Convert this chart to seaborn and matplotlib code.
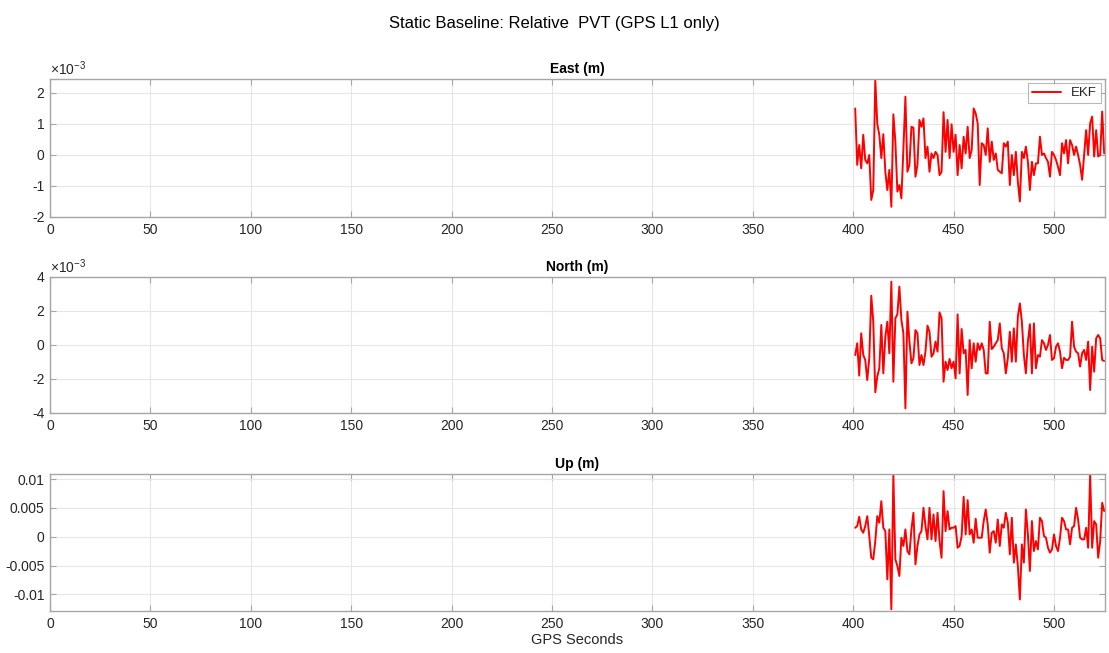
import numpy as np
import pandas as pd
import matplotlib
matplotlib.use("Agg")
import matplotlib.pyplot as plt
import seaborn as sns

# ---- data (GPS seconds 401..525, 1 Hz) ----
t = list(range(401, 526))

east_e3 = [1.5, -0.32, 0.32, -0.43, 0.65, -0.16, -0.27, 0.0, -1.45, -1.13,
           2.42, 1.0, 0.65, -0.1, 0.67, -0.54, -1.13, -0.48, -1.67, 1.31,
           0.43, -1.18, -0.97, -1.4, 0.2, 1.88, -0.54, -0.32, 0.91, 0.88,
           -0.7, -0.32, 1.13, 0.91, 1.18, -0.1, 0.27, -0.54, 0.05, -0.1,
           0.1, 0.0, -0.65, -0.54, 1.38, 0.1, 1.13, -0.1, 0.99, 0.1,
           0.65, -0.65, 0.32, -0.43, 0.59, 0.05, 0.91, -0.1, 0.16, 1.5,
           1.34, 1.02, -0.97, 0.38, 0.32, 0.0, 0.86, -0.22, 0.43, -0.16,
           0.05, -0.48, -0.54, -0.59, 0.38, 0.27, 0.43, -0.97, 0.0, -0.65,
           0.1, -0.86, -1.5, 0.1, -0.1, 0.27, -0.22, -1.13, -0.22, -0.65,
           -0.27, -0.27, 0.59, 0.0, 0.05, -0.1, -0.22, -0.7, 0.1, 0.0,
           -0.16, -0.38, -0.65, 0.38, 0.05, 0.48, -0.27, 0.48, 0.32, 0.0,
           0.27, 0.0, -0.32, -0.8, 0.0, 0.8, 0.0, 1.02, 1.24, -0.05,
           0.8, -0.05, 0.0, 1.4, 0.05]

north_e3 = [-0.59, 0.1, -1.8, 0.69, -0.59, -0.88, -2.06, -0.78, 2.9, 1.37,
            -2.78, -1.86, -1.37, 1.18, -1.67, 0.49, 1.37, -0.49, 3.73, -2.16,
            1.57, 1.8, 3.43, 1.47, 0.69, -3.73, 1.96, 0.2, -1.08, -0.78,
            0.88, 0.69, -1.18, -0.59, -1.18, -0.39, 1.14, 0.78, -0.69, -0.49,
            0.2, -0.39, 1.92, 1.57, -2.16, -0.98, -1.47, -0.82, -1.37, -0.98,
            -1.96, 1.8, -1.67, 0.94, -0.49, -0.29, -2.94, 0.29, -1.37, 0.1,
            -0.98, 0.1, -0.29, 0.1, -0.29, -1.67, -1.67, 1.37, -0.24, -0.1,
            0.1, 0.29, 1.27, -0.2, -0.49, -1.67, -0.78, 0.78, -0.98, 0.98,
            -0.98, 1.67, 2.45, 1.37, -0.59, -1.67, 0.2, 1.22, -1.67, 1.27,
            -1.37, -0.59, -0.69, 0.29, 0.1, -0.29, 0.0, 0.59, -0.88, -0.78,
            -0.1, 0.1, -0.39, -1.37, -0.75, -0.88, -0.88, -0.69, 1.37, -0.1,
            -0.39, -0.49, -1.27, -0.49, -0.29, -0.88, 0.2, -2.65, -0.1, -1.57,
            0.39, 0.59, 0.39, -0.88, -0.94]

up_e3 = [1.56, 1.85, 3.47, 1.27, 0.69, 1.85, 3.58, 0.12, -3.64, -3.93,
         -0.75, 3.58, 2.43, 6.18, 1.56, 0.98, -7.4, 1.27, -12.6, 10.8,
         -3.93, -5.09, -6.82, -0.17, -1.6, 1.27, -2.5, -3.06, 1.27, 4.16,
         -4.8, -1.6, 0.4, 0.98, 5.03, 1.85, -0.46, 5.03, -0.46, 3.87,
         -0.75, 4.16, -0.75, -3.64, 7.92, 0.98, 4.45, 1.27, 1.56, 1.56,
         1.85, -1.91, -1.6, 0.12, 6.94, 0.4, 6.36, 0.4, 1.27, -1.04,
         3.12, -0.17, -0.17, -0.17, 2.72, 4.74, 2.14, -2.77, 0.69, 0.98,
         -1.04, 3.0, -1.6, 2.14, 1.56, 4.16, 2.43, -3.06, 3.3, -4.5,
         -1.33, -5.09, -10.9, -1.33, -4.5, 4.74, 0.4, -5.95, 2.72, -2.49,
         -0.75, -2.2, 3.3, 2.72, 0.12, -0.17, -1.91, -2.77, -2.2, 0.4,
         -1.6, -2.49, -0.17, 3.3, 2.72, 1.27, 1.27, -1.33, 1.56, 1.85,
         5.03, 3.0, -0.17, -0.46, -0.46, 1.56, -1.91, 10.8, -1.91, 2.72,
         2.14, -3.64, -0.75, 5.9, 4.45]

titles = ["East (m)", "North (m)", "Up (m)"]
x_ticks = list(range(0, 501, 50))
east_ticks = [-2, -1, 0, 1, 2]
north_ticks = [-4, -2, 0, 2, 4]
up_ticks = [-0.01, -0.005, 0, 0.005, 0.01]
up_tick_labels = ["-0.01", "-0.005", "0", "0.005", "0.01"]

df = pd.DataFrame({
    "t": t,
    "east": np.array(east_e3) * 1e-3,
    "north": np.array(north_e3) * 1e-3,
    "up": np.array(up_e3) * 1e-3,
})

sns.set_theme(style="whitegrid")
plt.rcParams['font.family'] = ['Liberation Sans', 'DejaVu Sans']

fig = plt.figure(figsize=(11.09, 6.53), dpi=100)
W, H = 1109, 653
boxes = [(79, 217), (277, 413), (474, 611)]
axes = []
for top, bot in boxes:
    ax = fig.add_axes([50 / W, 1 - bot / H, 1055 / W, (bot - top) / H])
    axes.append(ax)

line_col = "#FF0000"
spine_col = "#A6A6A6"
text_col = "#262626"

sns.lineplot(data=df, x="t", y="east", ax=axes[0], color=line_col, lw=1.4, label="EKF")
sns.lineplot(data=df, x="t", y="north", ax=axes[1], color=line_col, lw=1.4, legend=False)
sns.lineplot(data=df, x="t", y="up", ax=axes[2], color=line_col, lw=1.4, legend=False)

ylims = [(-2e-3, 2.45e-3), (-4e-3, 4e-3), (-0.0129, 0.0109)]
for i, ax in enumerate(axes):
    ax.set_facecolor("white")
    ax.set_xlim(0, 525.4)
    ax.set_ylim(*ylims[i])
    ax.set_xticks(x_ticks)
    ax.set_xticklabels([str(v) for v in x_ticks])
    ax.grid(True, color="#E6E6E6", lw=0.8)
    for s in ax.spines.values():
        s.set_visible(True)
        s.set_color(spine_col)
        s.set_linewidth(1.0)
    ax.tick_params(direction="in", length=4, width=0.8, color=spine_col,
                   labelsize=10, labelcolor=text_col, top=True, right=True,
                   bottom=True, left=True, pad=4)
    ax.set_title(titles[i], fontsize=10, fontweight="bold", color="#000000", pad=4)
    ax.set_xlabel("")
    ax.set_ylabel("")

axes[0].set_yticks([v * 1e-3 for v in east_ticks])
axes[0].set_yticklabels([str(v) for v in east_ticks])
axes[1].set_yticks([v * 1e-3 for v in north_ticks])
axes[1].set_yticklabels([str(v) for v in north_ticks])
axes[2].set_yticks(up_ticks)
axes[2].set_yticklabels(up_tick_labels)

for ax in axes[:2]:
    ax.text(0.0, 1.01, "\u00d710$^{\\mathregular{-3}}$", transform=ax.transAxes,
            fontsize=10, color=text_col, ha="left", va="bottom")

axes[2].set_xlabel("GPS Seconds", fontsize=10.5, color=text_col, labelpad=2)

leg = axes[0].legend(loc="upper right", fontsize=9.5, frameon=True, fancybox=False,
                     handlelength=2.2, borderpad=0.3, labelspacing=0.2,
                     borderaxespad=0.3)
leg.get_frame().set_edgecolor(spine_col)
leg.get_frame().set_linewidth(0.8)

fig.suptitle("Static Baseline: Relative  PVT (GPS L1 only)", fontsize=12,
             color="#000000", y=0.975)

fig.savefig("out.png", dpi=100, facecolor="white")
